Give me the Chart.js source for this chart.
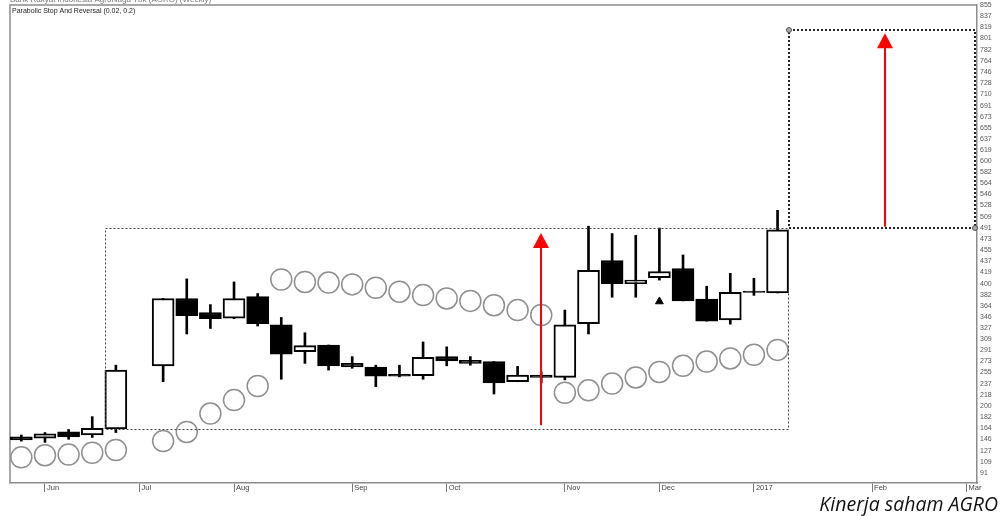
<!DOCTYPE html>
<html>
<head>
<meta charset="utf-8">
<script src="https://cdn.jsdelivr.net/npm/chart.js@4.4.0/dist/chart.umd.min.js"></script>
<style>
  html, body { margin: 0; padding: 0; background: #fff; }
  #wrap { position: relative; width: 1001px; height: 516px; overflow: hidden; }
  #caption { position: absolute; right: 3px; top: 491px; font-family: 'Open Sans', sans-serif; font-style: italic; font-size: 19.5px; color: #111; line-height: 26px; }
</style>
</head>
<body>
<div id="wrap">
  <canvas id="chart" width="1001" height="516"></canvas>
  <div id="caption">Kinerja saham AGRO</div>
</div>
<script>
// weekly candles (index = week number, week 5 has no bar)
const weekIdx = [0, 1, 2, 3, 4, 6, 7, 8, 9, 10, 11, 12, 13, 14, 15, 16, 17, 18, 19, 20, 21, 22, 23, 24, 25, 26, 27, 28, 29, 30, 31, 32];
const opens  = [150, 148, 158, 153, 163, 266, 376, 353, 344, 379, 333, 289, 300, 270, 264, 252, 250, 281, 275, 273, 240, 251, 247, 335, 438, 400, 410, 425, 375, 341, 388, 385];
const highs  = [153, 157, 162, 183, 267, 376, 408, 366, 403, 384, 345, 320, 300, 281, 267, 267, 305, 297, 281, 273, 265, 256, 357, 494, 482, 479, 491, 447, 396, 417, 409, 520];
const lows   = [143, 141, 146, 149, 157, 240, 318, 327, 343, 331, 244, 270, 259, 262, 232, 248, 244, 266, 267, 220, 240, 238, 243, 318, 378, 378, 406, 372, 339, 334, 381, 385];
const closes = [145, 155, 150, 164, 259, 376, 348, 343, 376, 335, 285, 299, 266, 264, 249, 249, 280, 274, 270, 238, 251, 247, 333, 422, 400, 406, 420, 372, 339, 386, 386, 488];

// parabolic SAR (0.02, 0.2)
const sarValues = [116.5, 120, 121, 124, 128.5, 143, 158, 188, 210, 233, 407, 403, 402, 399, 393.5, 387, 381.5, 376, 372, 365, 357, 349, 222, 226, 237, 247, 256, 266, 273, 278, 284, 292];

// alert marker
const alertIdx = [27];
const alertValue = [371];

// axis ticks
const xTickIdx = [1, 5, 9, 14, 18, 23, 27, 31, 36, 40];
const xTickLabels = ['Jun', 'Jul', 'Aug', 'Sep', 'Oct', 'Nov', 'Dec', '2017', 'Feb', 'Mar'];
const yTickLabels = [855, 837, 819, 801, 782, 764, 746, 728, 710, 691, 673, 655, 637, 619, 600, 582, 564, 546, 528, 509, 491, 473, 455, 437, 419, 400, 382, 364, 346, 327, 309, 291, 273, 255, 237, 218, 200, 182, 164, 146, 127, 109, 91];

// drawn annotations: [xFrom, xTo, yLow, yHigh]
const baseBox = [3.55, 32.45, 162, 491];
const targetBox = [32.5, 40.36, 491, 815];
const arrowWeek = [22, 36.55];
const arrowFrom = [169, 493];
const arrowTo = [483, 809];

const header = 'Parabolic Stop And Reversal (0.02, 0.2)';
const title = 'Bank Rakyat Indonesia Agroniaga Tbk (AGRO) (Weekly)';

const frameColor = '#8c8c8c';

const noPad = (s) => { s.paddingTop = 0; s.paddingBottom = 0; s.paddingLeft = 0; s.paddingRight = 0; };

const annotate = {
  id: 'annotate',
  beforeDraw(chart) {
    const { ctx, chartArea: a } = chart;
    ctx.save();
    ctx.strokeStyle = frameColor;
    ctx.lineWidth = 1.5;
    ctx.beginPath();
    ctx.moveTo(a.left, a.bottom);
    ctx.lineTo(a.left, a.top);
    ctx.lineTo(a.right, a.top);
    ctx.stroke();
    ctx.restore();
  },
  afterDatasetsDraw(chart) {
    const { ctx, scales: { x, y } } = chart;
    ctx.save();

    // base consolidation box
    ctx.strokeStyle = '#444';
    ctx.lineWidth = 1;
    ctx.setLineDash([2, 2]);
    let x0 = Math.round(x.getPixelForValue(baseBox[0])) + 0.5;
    let x1 = Math.round(x.getPixelForValue(baseBox[1])) + 0.5;
    let y0 = Math.round(y.getPixelForValue(baseBox[3])) + 0.5;
    let y1 = Math.round(y.getPixelForValue(baseBox[2])) + 0.5;
    ctx.strokeRect(x0, y0, x1 - x0, y1 - y0);

    // target box
    ctx.strokeStyle = '#222';
    ctx.lineWidth = 2;
    ctx.setLineDash([2, 2]);
    x0 = Math.round(x.getPixelForValue(targetBox[0]));
    x1 = Math.round(x.getPixelForValue(targetBox[1]));
    y0 = Math.round(y.getPixelForValue(targetBox[3]));
    y1 = Math.round(y.getPixelForValue(targetBox[2]));
    ctx.strokeRect(x0, y0, x1 - x0, y1 - y0);
    ctx.setLineDash([]);
    ctx.fillStyle = '#aaa';
    ctx.strokeStyle = '#555';
    ctx.lineWidth = 1;
    [[x0, y0], [x1, y1]].forEach(([cx, cy]) => {
      ctx.beginPath();
      ctx.arc(cx, cy, 2.5, 0, Math.PI * 2);
      ctx.fill();
      ctx.stroke();
    });

    // red arrows
    ctx.strokeStyle = '#ff0000';
    ctx.fillStyle = '#ff0000';
    ctx.lineWidth = 2;
    arrowWeek.forEach((w, i) => {
      const px = Math.round(x.getPixelForValue(w));
      const yb = y.getPixelForValue(arrowFrom[i]);
      const yt = y.getPixelForValue(arrowTo[i]);
      ctx.beginPath();
      ctx.moveTo(px, yb);
      ctx.lineTo(px, yt + 12);
      ctx.stroke();
      ctx.beginPath();
      ctx.moveTo(px, yt);
      ctx.lineTo(px - 8, yt + 15);
      ctx.lineTo(px + 8, yt + 15);
      ctx.closePath();
      ctx.fill();
    });
    ctx.restore();
  },
  afterDraw(chart) {
    const { ctx, chartArea: a } = chart;
    ctx.save();
    ctx.font = '7px "Liberation Sans", Arial, sans-serif';
    ctx.fillStyle = '#222';
    ctx.textBaseline = 'middle';
    ctx.fillText(header, a.left + 2, a.top + 6.5);
    ctx.fillStyle = '#777';
    ctx.font = '8px "Liberation Sans", Arial, sans-serif';
    ctx.textBaseline = 'alphabetic';
    ctx.fillText(title, a.left, 1.5);
    ctx.restore();
  }
};

const candleColor = weekIdx.map((_, i) => closes[i] >= opens[i] ? '#ffffff' : '#000000');

new Chart(document.getElementById('chart').getContext('2d'), {
  type: 'bar',
  data: {
    datasets: [
      {
        label: 'Body',
        data: weekIdx.map((w, i) => ({ x: w, y: [opens[i], closes[i]] })),
        backgroundColor: candleColor,
        borderColor: '#000',
        borderWidth: 2,
        borderSkipped: false,
        barThickness: 22,
        grouped: false,
        order: 3
      },
      {
        label: 'Wick',
        data: weekIdx.map((w, i) => ({ x: w, y: [lows[i], highs[i]] })),
        backgroundColor: '#000',
        borderWidth: 0,
        barThickness: 2,
        grouped: false,
        order: 4
      },
      {
        type: 'scatter',
        label: 'SAR',
        data: weekIdx.map((w, i) => ({ x: w, y: sarValues[i] })),
        pointStyle: 'circle',
        pointRadius: 10.5,
        pointBorderWidth: 1.5,
        pointBorderColor: '#8f8f8f',
        pointBackgroundColor: 'rgba(0,0,0,0)',
        order: 2
      },
      {
        type: 'scatter',
        label: 'Alert',
        data: alertIdx.map((w, i) => ({ x: w, y: alertValue[i] })),
        pointStyle: 'triangle',
        pointRadius: 4.5,
        pointBorderWidth: 1,
        pointBorderColor: '#000',
        pointBackgroundColor: '#000',
        order: 1
      }
    ]
  },
  options: {
    responsive: false,
    animation: false,
    layout: { autoPadding: false, padding: { left: 10, top: 5, right: 0, bottom: 0 } },
    plugins: { legend: { display: false }, tooltip: { enabled: false } },
    scales: {
      x: {
        type: 'linear',
        offset: false,
        min: -0.48,
        max: 40.44,
        afterFit: (s) => { s.height = 33; noPad(s); },
        afterBuildTicks: (s) => { s.ticks = xTickIdx.map(v => ({ value: v })); },
        grid: { display: true, offset: false, drawOnChartArea: false, drawTicks: true, tickLength: 9, color: '#7a7a7a', lineWidth: 1 },
        border: { display: true, color: frameColor, width: 1.5 },
        ticks: {
          autoSkip: false,
          maxRotation: 0,
          align: 'start',
          labelOffset: 2,
          padding: -9,
          color: '#444',
          font: { family: '"Liberation Sans", Arial, sans-serif', size: 7.5 },
          callback: (v) => xTickLabels[xTickIdx.indexOf(v)]
        }
      },
      y: {
        type: 'linear',
        position: 'right',
        min: 74.6,
        max: 855.3,
        afterFit: (s) => { s.width = 24; noPad(s); },
        afterBuildTicks: (s) => { s.ticks = yTickLabels.map(v => ({ value: v })); },
        grid: { display: false, drawTicks: false },
        border: { display: true, color: frameColor, width: 1.5 },
        ticks: {
          autoSkip: false,
          padding: 3,
          color: '#555',
          font: { family: '"Liberation Sans", Arial, sans-serif', size: 7 },
          callback: (v) => String(v)
        }
      }
    }
  },
  plugins: [annotate]
});
</script>
</body>
</html>
